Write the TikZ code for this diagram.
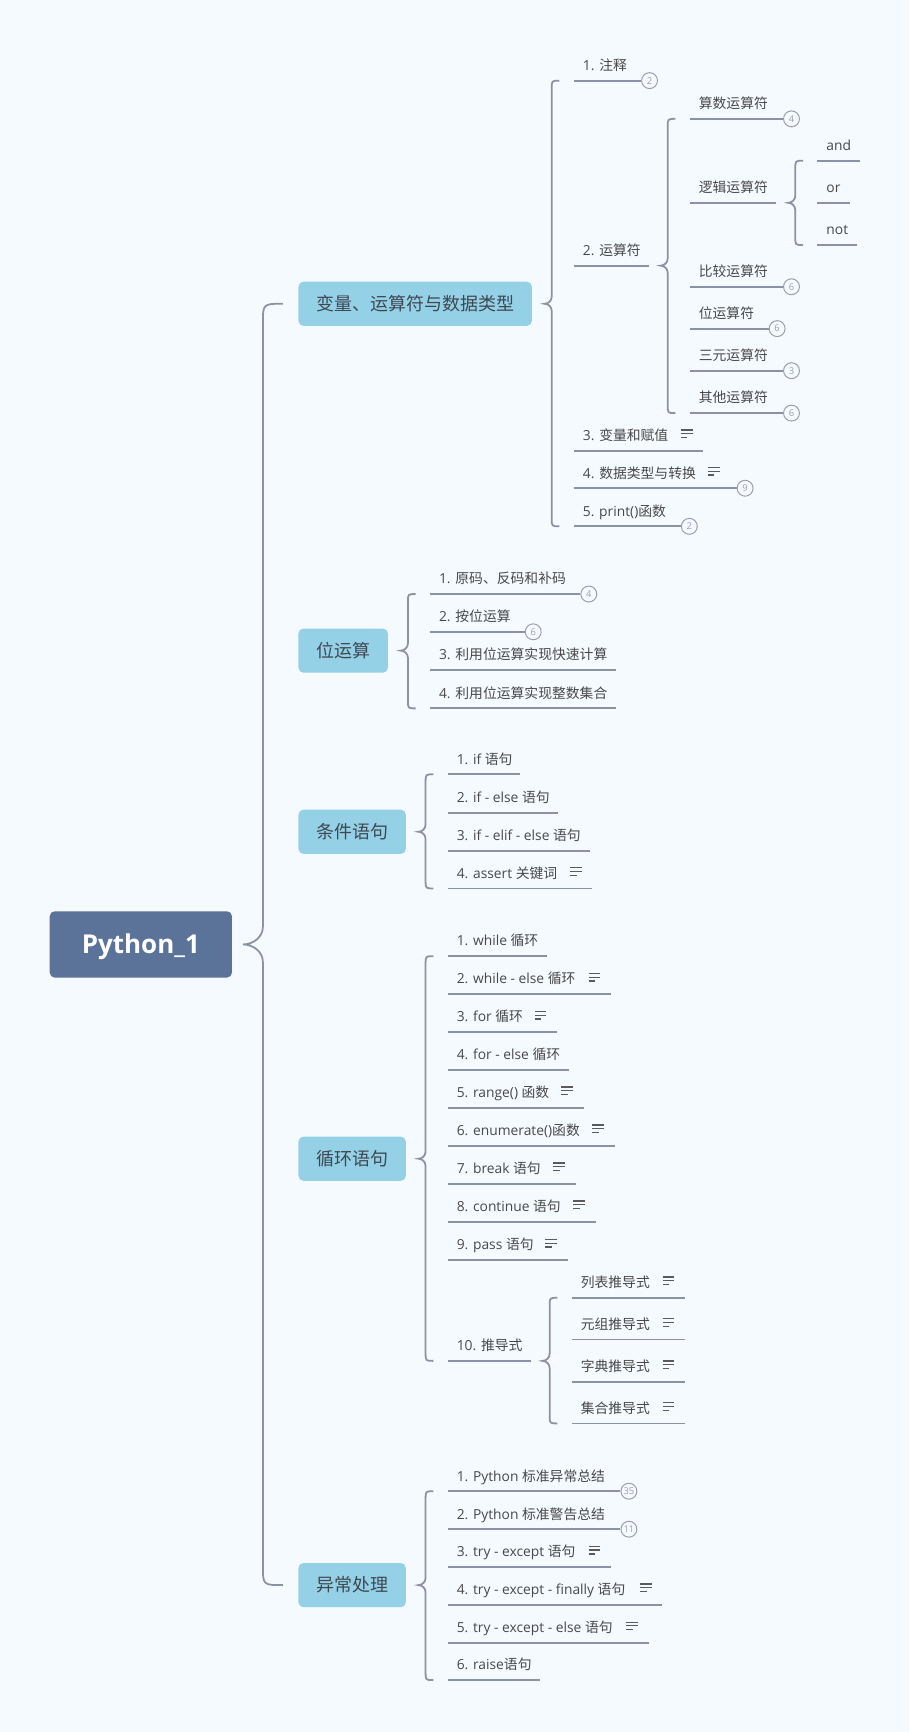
\documentclass[tikz,border=0pt]{standalone}
\usepackage{fontspec}
\setmainfont{Open Sans}
\newfontfamily\zhfont{Noto Sans CJK SC}
\usetikzlibrary{calc}
\definecolor{bg}{RGB}{245,250,254}
\definecolor{rootblue}{RGB}{91,114,153}
\definecolor{topicblue}{RGB}{149,209,230}
\definecolor{topictext}{RGB}{62,72,82}
\definecolor{itemtext}{RGB}{72,72,72}
\definecolor{linegray}{RGB}{137,146,166}
\definecolor{badgegray}{RGB}{150,160,180}
\definecolor{icongray}{RGB}{90,90,90}
\newcommand\zh[1]{{\zhfont #1}}
\newcommand\myitemfont{\fontsize{12.5}{15}\selectfont}
\newcommand\mytopicfont{\zhfont\fontsize{16.3}{20}\selectfont}
\newcommand\myrootfont{\bfseries\fontsize{23.5}{28}\selectfont}
\newcommand\mybadgefont{\fontsize{8.5}{9}\selectfont}
\tikzset{
  rootbox/.style={rounded corners=4.5pt, fill=rootblue, text=white, font=\myrootfont,
    minimum width=165pt, minimum height=60pt, inner sep=0pt, text height=17pt, text depth=0pt},
  topic/.style={rounded corners=4.5pt, fill=topicblue, text=topictext, font=\mytopicfont,
    minimum height=40pt, inner xsep=16pt, inner ysep=0pt, text height=12.4pt, text depth=0pt, anchor=west},
  itembox/.style={anchor=south west, inner sep=0pt, text depth=9pt, text height=12pt,
    font=\myitemfont, text=itemtext},
  uline/.style={draw=linegray, line width=1.6pt},
  branch/.style={draw=linegray, line width=1.6pt},
  badge/.style={circle, draw=badgegray, line width=0.9pt, fill=bg, minimum size=14.4pt,
    inner sep=0pt, font=\mybadgefont, text=badgegray, anchor=west},
  noteline/.style={draw=icongray, line width=1.1pt}
}
% name, x, y (underline start), length, text
\newcommand\itm[5]{%
  \node[itembox] (#1) at (#2,#3) {\makebox[#4pt][l]{\hspace{8pt}#5}};
  \draw[uline] (#1.south west) -- (#1.south east);}
\newcommand\bdg[2]{\node[badge] (#1b) at (#1.south east) {#2};}
\newcommand\noteicon[2]{%
  \draw[noteline] ($(#1.south east)+(-#2-10.8,-18.8)$) -- ++(10.8,0);
  \draw[noteline] ($(#1.south east)+(-#2-10.8,-15.4)$) -- ++(10.8,0);
  \draw[noteline] ($(#1.south east)+(-#2-10.8,-11.9)$) -- ++(6,0);}
% parent, first child, last child, gap, radius, cusp width, cusp half height
\newcommand\bracepath[7]{%
  \draw[branch] let \p1=(#2), \p2=(#3), \p3=(#1) in
    (\x1-#4pt,\y1) .. controls (\x1-#4pt-#5pt,\y1) .. (\x1-#4pt-#5pt,\y1-#5pt)
    -- (\x1-#4pt-#5pt,\y3+#7pt)
    .. controls (\x1-#4pt-#5pt,\y3+0.4*#7pt) and (\x1-#4pt-#5pt-0.5*#6pt,\y3) .. (\x1-#4pt-#5pt-#6pt,\y3)
    .. controls (\x1-#4pt-#5pt-0.5*#6pt,\y3) and (\x1-#4pt-#5pt,\y3-0.4*#7pt) .. (\x1-#4pt-#5pt,\y3-#7pt)
    -- (\x1-#4pt-#5pt,\y2+#5pt) .. controls (\x1-#4pt-#5pt,\y2) .. (\x1-#4pt,\y2);}
\begin{document}
\begin{tikzpicture}[x=1pt,y=-1pt]
\fill[bg] (0,0) rectangle (823,1568);
\useasboundingbox (0,0) rectangle (823,1568);

% root and topics
\node[rootbox] (root) at (127.5,855) {Python\_1};
\node[topic] (t1) at (270,275) {变量、运算符与数据类型};
\node[topic] (t2) at (270,589) {位运算};
\node[topic] (t3) at (270,753) {条件语句};
\node[topic] (t4) at (270,1049) {循环语句};
\node[topic] (t5) at (270,1435) {异常处理};
\bracepath{root.east}{t1.west}{t5.west}{14}{18}{18}{16}

% topic 1
\itm{a1}{519.5}{73}{60.5}{1. \zh{注释}}
\itm{a2}{519.5}{240.5}{67.5}{2. \zh{运算符}}
\itm{a3}{519.5}{408}{116.5}{3. \zh{变量和赋值}}
\itm{a4}{519.5}{442}{147}{4. \zh{数据类型与转换}}
\itm{a5}{519.5}{476.5}{96.5}{5. print()\zh{函数}}
\bdg{a1}{2}\bdg{a4}{9}\bdg{a5}{2}
\noteicon{a3}{9.4}\noteicon{a4}{15.5}
\bracepath{t1.east}{a1.south west}{a5.south west}{13}{7}{6.5}{6.6}

\itm{b1}{624.5}{107.6}{84}{\zh{算数运算符}}
\itm{b2}{624.5}{183.6}{77.5}{\zh{逻辑运算符}}
\itm{b3}{624.5}{259.6}{84}{\zh{比较运算符}}
\itm{b4}{624.5}{297.5}{71}{\zh{位运算符}}
\itm{b5}{624.5}{335.6}{84}{\zh{三元运算符}}
\itm{b6}{624.5}{374}{84}{\zh{其他运算符}}
\bdg{b1}{4}\bdg{b3}{6}\bdg{b4}{6}\bdg{b5}{3}\bdg{b6}{6}
\bracepath{a2.south east}{b1.south west}{b6.south west}{13}{7}{6.5}{6.6}

\itm{c1}{740}{145.5}{38}{and}
\itm{c2}{740}{183.6}{29}{or}
\itm{c3}{740}{221.8}{35}{not}
\bracepath{b2.south east}{c1.south west}{c3.south west}{13}{7}{6.5}{6.6}

% topic 2
\itm{d1}{389.3}{537.8}{135.7}{1. \zh{原码、反码和补码}}
\itm{d2}{389.3}{572}{85.4}{2. \zh{按位运算}}
\itm{d3}{389.3}{606.6}{168.4}{3. \zh{利用位运算实现快速计算}}
\itm{d4}{389.3}{641.3}{168.4}{4. \zh{利用位运算实现整数集合}}
\bdg{d1}{4}\bdg{d2}{6}
\bracepath{t2.east}{d1.south west}{d4.south west}{13}{7}{6.5}{6.6}

% topic 3
\itm{e1}{405.3}{701}{65.5}{1. if \zh{语句}}
\itm{e2}{405.3}{735.8}{99.3}{2. if - else \zh{语句}}
\itm{e3}{405.3}{770.2}{128.3}{3. if - elif - else \zh{语句}}
\itm{e4}{405.3}{804.3}{130.4}{4. assert \zh{关键词}}
\noteicon{e4}{9}
\bracepath{t3.east}{e1.south west}{e4.south west}{13}{7}{6.5}{6.6}

% topic 4
\itm{f1}{405.3}{865.6}{89.6}{1. while \zh{循环}}
\itm{f2}{405.3}{900}{147.6}{2. while - else \zh{循环}}
\itm{f3}{405.3}{934.4}{98.7}{3. for \zh{循环}}
\itm{f4}{405.3}{968.8}{109.3}{4. for - else \zh{循环}}
\itm{f5}{405.3}{1002.9}{122.8}{5. range() \zh{函数}}
\itm{f6}{405.3}{1037.3}{150.9}{6. enumerate()\zh{函数}}
\itm{f7}{405.3}{1071.7}{115.9}{7. break \zh{语句}}
\itm{f8}{405.3}{1106}{134}{8. continue \zh{语句}}
\itm{f9}{405.3}{1140.8}{108.4}{9. pass \zh{语句}}
\itm{f10}{405.3}{1232}{74.6}{10. \zh{推导式}}
\noteicon{f2}{9.7}\noteicon{f3}{9.7}\noteicon{f5}{9.4}\noteicon{f6}{9.7}
\noteicon{f7}{10}\noteicon{f8}{10}\noteicon{f9}{9.5}
\bracepath{t4.east}{f1.south west}{f10.south west}{13}{7}{6.5}{6.6}

\itm{g1}{517.6}{1174.9}{102}{\zh{列表推导式}}
\itm{g2}{517.6}{1212.6}{102}{\zh{元组推导式}}
\itm{g3}{517.6}{1250.9}{102}{\zh{字典推导式}}
\itm{g4}{517.6}{1288.6}{102}{\zh{集合推导式}}
\noteicon{g1}{9.4}\noteicon{g2}{9.4}\noteicon{g3}{9.4}\noteicon{g4}{9.4}
\bracepath{f10.south east}{g1.south west}{g4.south west}{13}{7}{6.5}{6.6}

% topic 5
\itm{h1}{405.3}{1350}{156}{1. Python \zh{标准异常总结}}
\itm{h2}{405.3}{1384.4}{156}{2. Python \zh{标准警告总结}}
\itm{h3}{405.3}{1418.7}{147}{3. try - except \zh{语句}}
\itm{h4}{405.3}{1452.8}{193.2}{4. try - except - finally \zh{语句}}
\itm{h5}{405.3}{1487.3}{181.7}{5. try - except - else \zh{语句}}
\itm{h6}{405.3}{1521}{83}{6. raise\zh{语句}}
\bdg{h1}{35}\bdg{h2}{11}
\noteicon{h3}{9.1}\noteicon{h4}{8.6}\noteicon{h5}{9.7}
\bracepath{t5.east}{h1.south west}{h6.south west}{13}{7}{6.5}{6.6}
\end{tikzpicture}
\end{document}
